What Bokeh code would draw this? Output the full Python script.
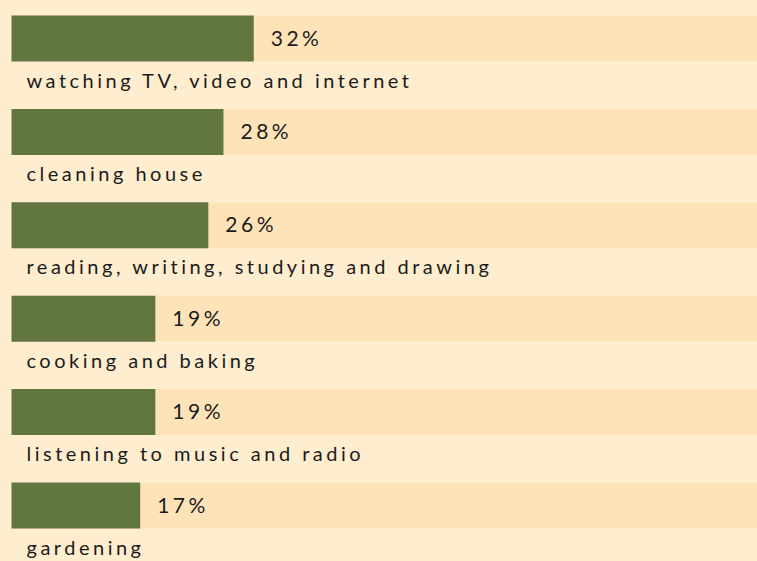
from bokeh.plotting import figure
from bokeh.models import Range1d, ColumnDataSource
from bokeh.core.properties import value
from bokeh.embed import file_html
from bokeh.resources import INLINE

categories = [
    "watching TV, video and internet",
    "cleaning house",
    "reading, writing, studying and drawing",
    "cooking and baking",
    "listening to music and radio",
    "gardening",
]
shares = [32, 28, 26, 19, 19, 17]
share_labels = ["32%", "28%", "26%", "19%", "19%", "17%"]

BG = "#FEEDCE"
TRACK = "#FEE3B9"
GREEN = "#62773F"
INK = "#1c1c1c"

W, H = 757, 561
PX_PER_PCT = 7.57
ROW_PX = 93.4
TOP_PX = 38.0
LEFT_PX = 11.0

idx = list(range(len(categories)))
src = ColumnDataSource(dict(
    y=idx,
    ylab=[i + 41.0 / ROW_PX for i in idx],
    ypct=[i - 1.5 / ROW_PX for i in idx],
    cat=categories,
    val=shares,
    lab=share_labels,
    full=[100] * len(idx),
    zero=[0] * len(idx),
))

x0 = -LEFT_PX / PX_PER_PCT
p = figure(width=W, height=H, output_backend="svg", toolbar_location=None,
           x_range=Range1d(x0, x0 + W / PX_PER_PCT),
           y_range=Range1d((H - TOP_PX) / ROW_PX, -TOP_PX / ROW_PX),
           min_border=0)
p.background_fill_color = BG
p.border_fill_color = BG
p.outline_line_color = None
p.axis.visible = False
p.grid.visible = False

bh = 46.0 / ROW_PX
p.hbar(y="y", left="zero", right="full", height=bh, source=src,
       fill_color=TRACK, line_color=None)
p.hbar(y="y", left="zero", right="val", height=bh, source=src,
       fill_color=GREEN, line_color=None)

p.text(x="val", y="ypct", text="lab", source=src, x_offset=17,
       text_baseline="middle", text_align="left",
       text_font=value("Lato"), text_font_size="21px", text_color=INK)
p.text(x="zero", y="ylab", text="cat", source=src, x_offset=15,
       text_baseline="alphabetic", text_align="left",
       text_font=value("Lato"), text_font_size="20px", text_color=INK)

html = file_html(p, INLINE)
html = html.replace(
    "<body>",
    '<body style="margin:0; background-color:%s; letter-spacing:3.5px; overflow:hidden;">' % BG)
open("out.html", "w").write(html)
